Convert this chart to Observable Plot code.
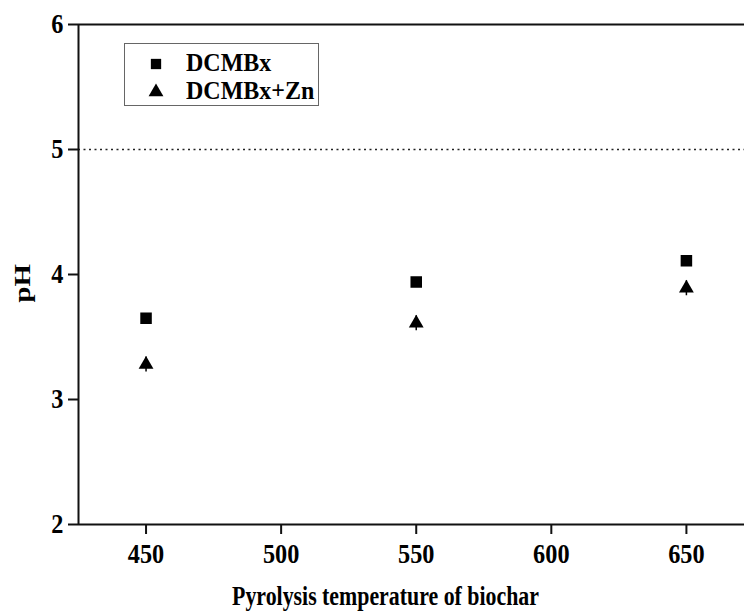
<!DOCTYPE html>
<html><head><meta charset="utf-8">
<script src="https://cdn.jsdelivr.net/npm/d3@7"></script>
<script src="https://cdn.jsdelivr.net/npm/@observablehq/plot@0.6"></script>
<style>
body{margin:0;background:#fff;}
#wrap{position:relative;width:744px;height:615px;font-family:"Liberation Serif","Times New Roman",serif;}
#legend{position:absolute;left:124px;top:43px;width:195px;height:63px;box-sizing:border-box;border:1.5px solid #666;background:#fff;font-weight:bold;font-size:24px;color:#000;}
#legend .item{position:absolute;left:0;height:28px;width:100%;}
#legend svg{position:absolute;left:21px;top:4px;}
#legend span{position:absolute;left:61px;top:0px;line-height:24px;white-space:nowrap;display:inline-block;transform:scale(1,1.08);transform-origin:left center;}
</style>
</head><body>
<div id="wrap"><div id="chart"></div><div id="legend"></div></div>
<script>
const temps = [450, 550, 650];
const dcmbx = [3.65, 3.94, 4.11];
const dcmbxErr = [0.03, 0.03, 0.03];
const dcmbxZn = [3.28, 3.61, 3.89];
const dcmbxZnErr = [0.06, 0.06, 0.06];
const seriesNames = ["DCMBx", "DCMBx+Zn"];
const xTicks = [450, 500, 550, 600, 650];
const yTicks = [2, 3, 4, 5, 6];
const xDomain = [425, 671.5];
const yDomain = [2, 6];
const refLine = 5;
const xTitle = "Pyrolysis temperature of biochar";
const yTitle = "pH";

const sqRows = temps.map((t, i) => ({t, v: dcmbx[i], e: dcmbxErr[i]}));
const triRows = temps.map((t, i) => ({t, v: dcmbxZn[i], e: dcmbxZnErr[i]}));

const ink = "#111";
const chart = Plot.plot({
  width: 744, height: 615,
  marginLeft: 78, marginRight: 0, marginTop: 24, marginBottom: 91,
  style: {fontFamily: '"Liberation Serif","Times New Roman",serif', fontWeight: "bold", color: "#000", background: "transparent", overflow: "visible"},
  x: {domain: xDomain},
  y: {domain: yDomain},
  marks: [
    Plot.ruleY([refLine], {stroke: "#222", strokeWidth: 1.3, strokeDasharray: "2,3.5"}),
    Plot.ruleY([yDomain[1]], {stroke: ink, strokeWidth: 2}),
    Plot.ruleY([yDomain[0]], {stroke: ink, strokeWidth: 2}),
    Plot.ruleX([xDomain[0]], {stroke: ink, strokeWidth: 2}),
    Plot.axisX({ticks: xTicks, tickSize: 10, tickPadding: 9, fontSize: 27, label: null, tickFormat: d => String(d), strokeWidth: 2, stroke: ink}),
    Plot.axisY({ticks: yTicks, tickSize: 10, tickPadding: 5, fontSize: 27, label: null, tickFormat: d => String(d), strokeWidth: 2, stroke: ink}),
    Plot.ruleX(sqRows, {x: "t", y1: d => d.v - d.e, y2: d => d.v + d.e, stroke: "#000", strokeWidth: 1.5}),
    Plot.ruleX(triRows, {x: "t", y1: d => d.v - d.e, y2: d => d.v + d.e, stroke: "#000", strokeWidth: 1.5}),
    Plot.dot(sqRows, {x: "t", y: "v", symbol: "square", r: 6.5, fill: "#000", stroke: "none"}),
    Plot.dot(triRows, {x: "t", y: "v", symbol: "triangle", r: 5.5, fill: "#000", stroke: "none"}),
    Plot.text([xTitle], {frameAnchor: "bottom", dy: 80, dx: -26, fontSize: 27, fontWeight: "bold", fill: "#000"}),
    Plot.text([yTitle], {frameAnchor: "left", dx: -56, dy: 28, rotate: -90, fontSize: 24, fontWeight: "bold", fill: "#000"})
  ]
});
document.getElementById("chart").appendChild(chart);

// mimic the vertically stretched lettering of the original figure
function squeeze(el, sx, sy) {
  const t = el.getAttribute("transform");
  if (t) {
    el.setAttribute("transform", t + ` scale(${sx},${sy})`);
  } else {
    const x = +el.getAttribute("x") || 0, y = +el.getAttribute("y") || 0;
    el.setAttribute("transform", `translate(${x},${y}) scale(${sx},${sy}) translate(${-x},${-y})`);
  }
}
const tickStrings = new Set([...xTicks, ...yTicks].map(String));
chart.querySelectorAll("text").forEach(el => {
  const s = el.textContent.trim();
  if (s === xTitle) squeeze(el, 0.81, 1);
  else if (s === yTitle) squeeze(el, 1.2, 1);
  else if (tickStrings.has(s)) squeeze(el, 0.9, 1);
});

// legend inside plot area
const legend = document.getElementById("legend");
const symbols = [d3.symbolSquare, d3.symbolTriangle];
const sizes = [Math.PI * 6.5 * 6.5 * 0.8, Math.PI * 5.5 * 5.5];
seriesNames.forEach((name, i) => {
  const item = document.createElement("div");
  item.className = "item";
  item.style.top = (6 + i * 28) + "px";
  const svg = d3.create("svg").attr("width", 20).attr("height", 20);
  svg.append("path").attr("transform", "translate(10,10)").attr("d", d3.symbol(symbols[i], sizes[i])()).attr("fill", "#000");
  item.appendChild(svg.node());
  const span = document.createElement("span");
  span.textContent = name;
  item.appendChild(span);
  legend.appendChild(item);
});
</script>
</body></html>
